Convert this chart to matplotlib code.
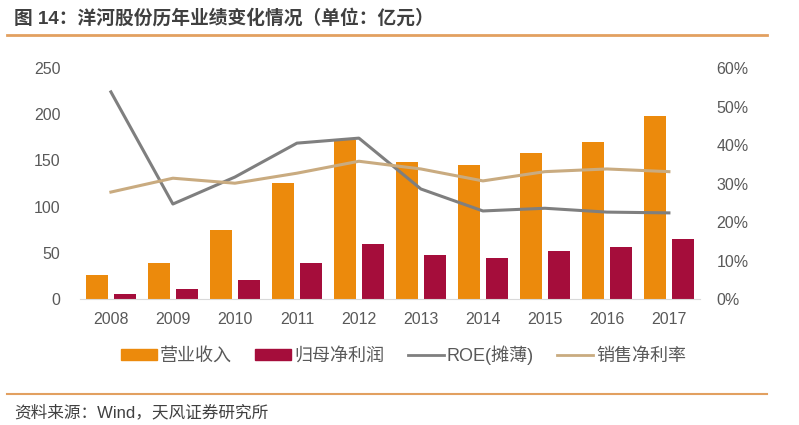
import matplotlib.pyplot as plt
from matplotlib.patches import Patch
from matplotlib.lines import Line2D
import numpy as np

plt.rcParams['font.family'] = ['Liberation Sans', 'Noto Sans CJK SC', 'DejaVu Sans']

years = ['2008', '2009', '2010', '2011', '2012', '2013', '2014', '2015', '2016', '2017']
revenue = [26, 39, 75, 125.5, 172, 148, 145, 158, 170, 198]      # 营业收入 (亿元)
net_profit = [5.4, 11, 20.5, 39, 59.5, 47.6, 44.4, 52, 56, 65]   # 归母净利润 (亿元)
roe = [53.8, 24.7, 31.7, 40.5, 41.8, 28.6, 22.9, 23.6, 22.6, 22.4]  # ROE(摊薄) %
net_margin = [27.8, 31.4, 30.1, 32.7, 35.8, 33.8, 30.7, 33.1, 33.8, 33.1]  # 销售净利率 %

c_rev = '#EC8A0C'
c_np = '#A50D3B'
c_roe = '#7F7F7F'
c_nm = '#C9AB80'
c_txt = '#595959'

fig = plt.figure(figsize=(7.99, 4.25), dpi=100)
ax = fig.add_axes([0.100, 0.296, 0.776, 0.544])
ax2 = ax.twinx()

x = np.arange(len(years))
w = 0.35
ax.bar(x - 0.225, revenue, w, color=c_rev, zorder=2)
ax.bar(x + 0.225, net_profit, w, color=c_np, zorder=2)
ax2.plot(x, [v / 100 for v in roe], color=c_roe, lw=2.2)
ax2.plot(x, [v / 100 for v in net_margin], color=c_nm, lw=2.2)

ax.set_xlim(-0.5, 9.5)
ax.set_ylim(0, 250)
ax2.set_ylim(0, 0.6)
ax.set_xticks(x)
ax.set_xticklabels(years)
ax.set_yticks(range(0, 251, 50))
ax2.set_yticks(np.arange(0, 0.61, 0.1))
ax2.set_yticklabels(['%d%%' % (v * 10) for v in range(7)])

for a in (ax, ax2):
    for s in a.spines.values():
        s.set_visible(False)
    a.tick_params(length=0, colors=c_txt, labelsize=11.5)
ax.spines['bottom'].set_visible(True)
ax.spines['bottom'].set_color('#D9D9D9')
ax.tick_params(axis='x', pad=9)
ax.tick_params(axis='y', pad=14)
ax2.tick_params(axis='y', pad=12)

handles = [Patch(color=c_rev), Patch(color=c_np),
           Line2D([], [], color=c_roe, lw=2), Line2D([], [], color=c_nm, lw=2)]
labels = ['营业收入', '归母净利润', 'ROE(摊薄)', '销售净利率']
fig.legend(handles, labels, loc='center', bbox_to_anchor=(0.505, 0.165), ncol=4,
           frameon=False, fontsize=13, handlelength=2.0, handleheight=0.55,
           handletextpad=0.15, columnspacing=1.3, labelcolor=c_txt)

fig.text(0.018, 0.957, '图 14：洋河股份历年业绩变化情况（单位：亿元）', fontsize=13.5,
         fontweight='bold', color='#404040', va='center')
fig.add_artist(Line2D([0.009, 0.96], [0.918, 0.918], color='#E2A060', lw=2))
fig.add_artist(Line2D([0.009, 0.96], [0.073, 0.073], color='#E2A060', lw=1.5))
fig.text(0.018, 0.030, '资料来源：Wind，天风证券研究所', fontsize=12,
         color='#404040', va='center')

fig.savefig('out.png', dpi=100)
